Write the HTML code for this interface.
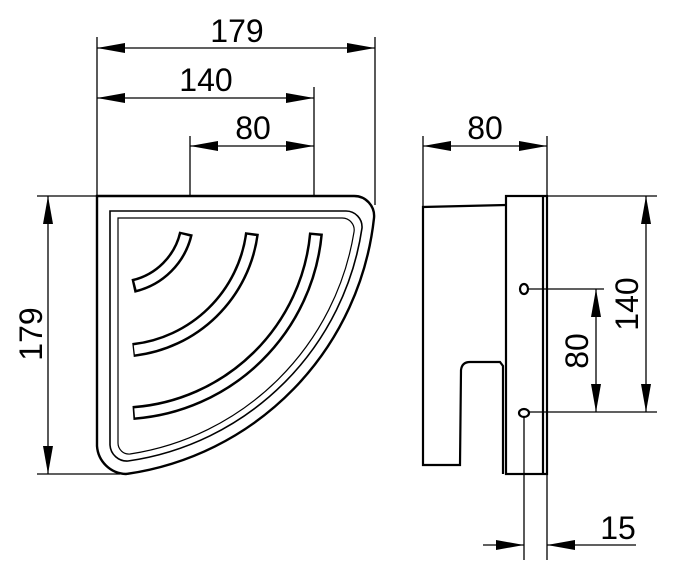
<!DOCTYPE html>
<html><head><meta charset="utf-8"><style>
html,body{margin:0;padding:0;background:#fff;}
svg{display:block;}
text{font-family:"Liberation Sans",sans-serif;font-size:32px;fill:#000;}
</style></head><body>
<svg width="674" height="574" viewBox="0 0 674 574" xmlns="http://www.w3.org/2000/svg">
<defs>
<marker id="a" markerWidth="28" markerHeight="12" refX="28" refY="6" orient="auto-start-reverse" markerUnits="userSpaceOnUse">
<path d="M0,1 L28,6 L0,11 Z" fill="#000"/></marker>
</defs>
<g stroke="#000" stroke-width="1.3" fill="none">
<line x1="97" y1="37" x2="97" y2="196"/>
<line x1="375" y1="37" x2="375" y2="205"/>
<line x1="314" y1="87" x2="314" y2="196"/>
<line x1="190" y1="136" x2="190" y2="196"/>
<line x1="37" y1="196" x2="97" y2="196"/>
<line x1="37" y1="474" x2="120" y2="474"/>
<line x1="97" y1="48" x2="375" y2="48" marker-start="url(#a)" marker-end="url(#a)"/>
<line x1="97" y1="98" x2="314" y2="98" marker-start="url(#a)" marker-end="url(#a)"/>
<line x1="190" y1="146" x2="314" y2="146" marker-start="url(#a)" marker-end="url(#a)"/>
<line x1="48" y1="196" x2="48" y2="474" marker-start="url(#a)" marker-end="url(#a)"/>
</g>
<g fill="none" stroke="#000">
<path d="M97,196 H354 A20,20 0 0 1 374,218 A290,290 0 0 1 126,474 A30,30 0 0 1 97,446 Z" stroke-width="2.4"/>
<path d="M110,211 H346 A16,16 0 0 1 362,228 A276,276 0 0 1 128,461 A17,17 0 0 1 110,445 Z" stroke-width="1.6"/>
<path d="M118,218 H342 A12,12 0 0 1 354,232 A268,268 0 0 1 130,454 A11,11 0 0 1 118,443 Z" stroke-width="1.2"/>
</g>
<g fill="none">
<path d="M186,233 A70,70 0 0 1 133,286" stroke="#000" stroke-width="14"/>
<path d="M186,233 A70,70 0 0 1 133,286" stroke="#fff" stroke-width="9" stroke-dasharray="0 2.5 74 100"/>
<path d="M252,233 A135,135 0 0 1 133,350" stroke="#000" stroke-width="14"/>
<path d="M252,233 A135,135 0 0 1 133,350" stroke="#fff" stroke-width="9" stroke-dasharray="0 2.5 176 300"/>
<path d="M316,233 A198,198 0 0 1 133,413" stroke="#000" stroke-width="14"/>
<path d="M316,233 A198,198 0 0 1 133,413" stroke="#fff" stroke-width="9" stroke-dasharray="0 2.5 275 400"/>
</g>
<text x="237" y="42" text-anchor="middle">179</text>
<text x="206" y="91" text-anchor="middle">140</text>
<text x="253" y="139" text-anchor="middle">80</text>
<text transform="translate(42,334) rotate(-90)" text-anchor="middle">179</text>

<g fill="none" stroke="#000" stroke-width="2.2">
<path d="M506,205 L423,207 V465 H460 L461,370 Q462,362 470,362 H500 L503,366 V474"/>
<rect x="506" y="196" width="41" height="278"/>
<line x1="543" y1="196" x2="543" y2="474"/>
<ellipse cx="524" cy="289" rx="4" ry="5"/>
<ellipse cx="524" cy="413" rx="5" ry="4"/>
</g>
<g stroke="#000" stroke-width="1.3" fill="none">
<line x1="423" y1="136" x2="423" y2="207"/>
<line x1="547" y1="136" x2="547" y2="560"/>
<line x1="423" y1="146" x2="547" y2="146" marker-start="url(#a)" marker-end="url(#a)"/>
<line x1="547" y1="196" x2="657" y2="196"/>
<line x1="528" y1="412" x2="657" y2="412"/>
<line x1="528" y1="289" x2="604" y2="289"/>
<line x1="646" y1="196" x2="646" y2="412" marker-start="url(#a)" marker-end="url(#a)"/>
<line x1="596" y1="289" x2="596" y2="412" marker-start="url(#a)" marker-end="url(#a)"/>
<line x1="524" y1="417" x2="524" y2="560"/>
<line x1="483" y1="545" x2="524" y2="545" marker-end="url(#a)"/>
<line x1="636" y1="545" x2="547" y2="545" marker-end="url(#a)"/>
</g>
<text x="485" y="139" text-anchor="middle">80</text>
<text transform="translate(638,304) rotate(-90)" text-anchor="middle">140</text>
<text transform="translate(588,351) rotate(-90)" text-anchor="middle">80</text>
<text x="618" y="539" text-anchor="middle">15</text>
</svg>
</body></html>
